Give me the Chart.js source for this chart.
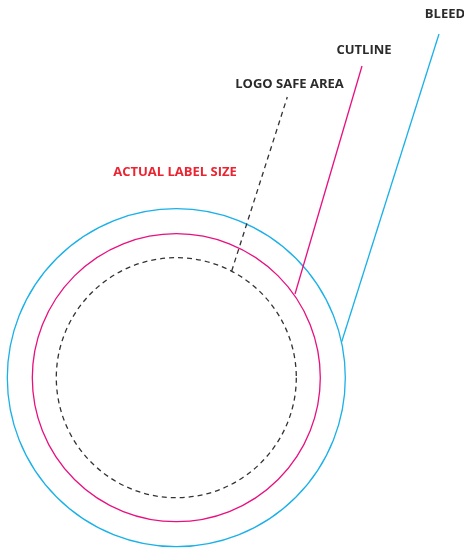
<!DOCTYPE html>
<html>
<head>
<meta charset="utf-8">
<script src="https://cdn.jsdelivr.net/npm/chart.js@4"></script>
<style>
html,body{margin:0;padding:0;background:#fff;}
#wrap{width:464px;height:548px;position:relative;}
</style>
</head>
<body>
<div id="wrap"><canvas id="c" width="464" height="548"></canvas></div>
<script>
// Rings (shared centre), in diagram units
const ringNames = ['BLEED', 'CUTLINE', 'LOGO SAFE AREA'];
const ringRadii = [169, 144, 120];
const ringCenterX = [176.3];
const ringCenterY = [377.7];
// Leader lines: from ring edge to label
const leaderStartX = [341.7, 295, 231.7];
const leaderStartY = [341.7, 294, 271];
const leaderEndX = [439, 362, 287.3];
const leaderEndY = [34, 66, 97];
// Labels
const labelTexts = ['BLEED', 'CUTLINE', 'LOGO SAFE AREA', 'ACTUAL LABEL SIZE'];
const labelX = [445, 364, 289.5, 175];
const labelY = [14, 50, 84, 172];

const ringColors = ['#1ab0e8', '#e8107f', '#333333'];
const ringDash = [[], [], [5, 4]];
const labelColors = ['#2b2b2b', '#2b2b2b', '#2b2b2b', '#ec2330'];

const datasets = ringNames.map((n, i) => ({
  label: n,
  data: [{x: leaderStartX[i], y: leaderStartY[i]}, {x: leaderEndX[i], y: leaderEndY[i]}],
  showLine: true,
  borderColor: ringColors[i],
  borderWidth: 1.3,
  borderDash: ringDash[i],
  pointRadius: 0,
  fill: false
}));

const ringPlugin = {
  id: 'rings',
  beforeDatasetsDraw(chart) {
    const {ctx, scales: {x, y}} = chart;
    const cx = x.getPixelForValue(ringCenterX[0]);
    const cy = y.getPixelForValue(ringCenterY[0]);
    ctx.save();
    ringRadii.forEach((r, i) => {
      const rp = Math.abs(x.getPixelForValue(ringCenterX[0] + r) - cx);
      ctx.beginPath();
      ctx.setLineDash(ringDash[i]);
      ctx.strokeStyle = ringColors[i];
      ctx.lineWidth = 1.3;
      ctx.arc(cx, cy, rp, 0, Math.PI * 2);
      ctx.stroke();
    });
    ctx.restore();
  }
};

const textPlugin = {
  id: 'labels',
  afterDatasetsDraw(chart) {
    const {ctx, scales: {x, y}} = chart;
    ctx.save();
    ctx.font = 'bold 13px "Open Sans", Roboto, sans-serif';
    ctx.textAlign = 'center';
    ctx.textBaseline = 'middle';
    labelTexts.forEach((t, i) => {
      ctx.fillStyle = labelColors[i];
      ctx.fillText(t, x.getPixelForValue(labelX[i]), y.getPixelForValue(labelY[i]));
    });
    ctx.restore();
  }
};

new Chart(document.getElementById('c'), {
  type: 'scatter',
  data: { datasets },
  options: {
    responsive: false,
    animation: false,
    layout: { padding: 0 },
    plugins: { legend: { display: false }, tooltip: { enabled: false } },
    scales: {
      x: { type: 'linear', min: 0, max: 464, display: false },
      y: { type: 'linear', min: 0, max: 548, reverse: true, display: false }
    }
  },
  plugins: [ringPlugin, textPlugin]
});
</script>
</body>
</html>
